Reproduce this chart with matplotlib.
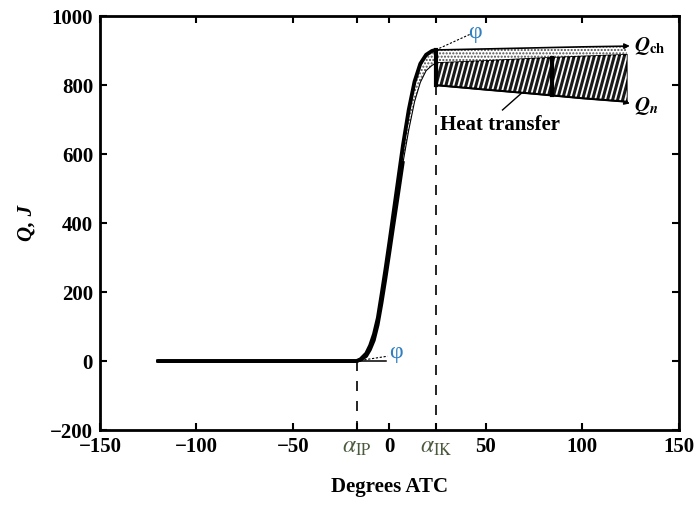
import numpy as np
import matplotlib.pyplot as plt
from matplotlib.patches import Polygon

plt.rcParams['font.family'] = ['Liberation Serif', 'DejaVu Serif']
plt.rcParams['mathtext.fontset'] = 'stix'
plt.rcParams['hatch.linewidth'] = 1.0

# rising part of the curve (degrees ATC, J)
rise_deg = [-120, -17, -15, -12, -10, -8, -6, -4, -2, 0, 2, 4, 7, 10, 13, 16, 19, 22, 24]
rise_q_upper = [0, 0, 5, 22, 45, 78, 125, 195, 268, 345, 425, 505, 625, 728, 810, 862, 888, 899, 902]
rise_q_lower = [0, 0, 3, 14, 33, 60, 105, 168, 238, 312, 388, 462, 575, 670, 752, 808, 842, 857, 864]

# after end of combustion
post_deg = [24, 50, 75, 100, 123]
post_q_ch = [902, 905, 908, 911, 913]
post_q_mid = [864, 870, 877, 883, 888]
post_q_n = [800, 787, 775, 762, 752]

alpha_ip = -17
alpha_ik = 24
heat_mark_deg = 84

x_ticks = [-150, -100, -50, alpha_ip, 0, alpha_ik, 50, 100, 150]
x_labels = ['\u2212150', '\u2212100', '\u221250', r'$\alpha_{\mathrm{IP}}$', '0',
            r'$\alpha_{\mathrm{IK}}$', '50', '100', '150']
y_ticks = [-200, 0, 200, 400, 600, 800, 1000]
y_labels = ['\u2212200', '0', '200', '400', '600', '800', '1000']

fig = plt.figure(figsize=(6.97, 5.05), dpi=100)
ax = fig.add_axes([0.1435, 0.1485, 0.8305, 0.8195])

# dotted band on the rising part
ax.fill_between(rise_deg, rise_q_lower, rise_q_upper, facecolor='white',
                edgecolor='0.3', hatch='.....', linewidth=0, zorder=2)
# dotted band after alpha_IK
ax.fill_between(post_deg, post_q_mid, post_q_ch, facecolor='white',
                edgecolor='0.3', hatch='.....', linewidth=0, zorder=2)

# hatched heat transfer region (dark with steep white stripes)
verts = list(zip(post_deg, post_q_mid)) + list(zip(post_deg[::-1], post_q_n[::-1]))
poly = Polygon(verts, closed=True, facecolor='#1a1a1a', edgecolor='black',
               linewidth=1.2, zorder=3)
ax.add_patch(poly)
for x0 in np.arange(5, 135, 2.6):
    ln, = ax.plot([x0, x0 + 12], [700, 950], color='white', lw=1.3, zorder=4)
    ln.set_clip_path(poly)

# curve outlines
ax.plot(rise_deg, rise_q_upper, color='black', lw=2.8, zorder=5,
        solid_capstyle='round', solid_joinstyle='round')
ax.plot(rise_deg[:13], rise_q_lower[:13], color='black', lw=2.4, zorder=5,
        solid_joinstyle='round')
ax.plot(rise_deg[12:], rise_q_lower[12:], color='black', lw=0.8, zorder=5)
ax.plot(post_deg, post_q_ch, color='black', lw=1.2, zorder=5)
ax.plot(post_deg, post_q_n, color='black', lw=1.5, zorder=5)

# tangent at start and thick marks
ax.plot([alpha_ip, -2], [0, 0], color='black', lw=1.1, zorder=5)
ax.plot([alpha_ik, alpha_ik], [post_q_n[0], post_q_ch[0]], color='black', lw=3, zorder=6)
m_top = np.interp(heat_mark_deg, post_deg, post_q_mid)
m_bot = np.interp(heat_mark_deg, post_deg, post_q_n)
ax.plot([heat_mark_deg, heat_mark_deg], [m_bot, m_top], color='black', lw=3, zorder=6)

# dashed verticals
ax.plot([alpha_ip, alpha_ip], [0, -200], color='black', lw=1.2, ls=(0, (6, 6)))
ax.plot([alpha_ik, alpha_ik], [post_q_n[0], -200], color='black', lw=1.2, ls=(0, (6, 6)))

# phi markers
phi_color = '#2f7fc1'
ax.plot([alpha_ik, 42], [902, 948], color='black', lw=0.8, ls=(0, (2, 1.5)), zorder=6)
ax.text(44.5, 952, '\u03c6', color=phi_color, fontsize=17,
        ha='center', va='center', zorder=7)
ax.plot([alpha_ip, -1], [0, 14], color='black', lw=0.8, ls=(0, (2, 1.5)), zorder=6)
ax.text(3.5, 24, '\u03c6', color=phi_color, fontsize=17,
        ha='center', va='center', zorder=7)

# labels with arrows
ax.annotate('', xy=(126, 914), xytext=(post_deg[-1] - 2, post_q_ch[-1]),
            arrowprops=dict(arrowstyle='-|>', color='black', lw=1, mutation_scale=8))
ax.text(127, 914, r'$\mathbfit{Q}_{\mathbf{ch}}$', fontsize=15, ha='left', va='center')
ax.annotate('', xy=(126, 745), xytext=(post_deg[-1] - 2, post_q_n[-1]),
            arrowprops=dict(arrowstyle='-|>', color='black', lw=1, mutation_scale=8))
ax.text(127, 740, r'$\mathbfit{Q}_{\mathbfit{n}}$', fontsize=15, ha='left', va='center')

ax.text(26, 684, 'Heat transfer', fontsize=15, fontweight='bold', ha='left', va='center')
ax.plot([58.6, 68.7], [728, np.interp(68.7, post_deg, post_q_n)], color='black', lw=1)

ax.set_xlim(-150, 150)
ax.set_ylim(-200, 1000)
ax.set_xticks(x_ticks)
ax.set_xticklabels(x_labels)
ax.set_yticks(y_ticks)
ax.set_yticklabels(y_labels)
for lab in ax.get_xticklabels():
    if 'alpha' in lab.get_text():
        lab.set_color('#4a5a3c')
        lab.set_fontsize(17)
    else:
        lab.set_fontsize(15)
        lab.set_fontweight('bold')
for lab in ax.get_yticklabels():
    lab.set_fontsize(15)
    lab.set_fontweight('bold')

ax.tick_params(direction='in', length=5, width=1.5, top=True, right=True, pad=5)
for s in ax.spines.values():
    s.set_linewidth(2)

ax.set_xlabel('Degrees ATC', fontsize=15, fontweight='bold', labelpad=14)
ax.set_ylabel('Q, J', fontsize=15, fontweight='bold', style='italic', labelpad=10)

fig.savefig('out.png', dpi=100)
